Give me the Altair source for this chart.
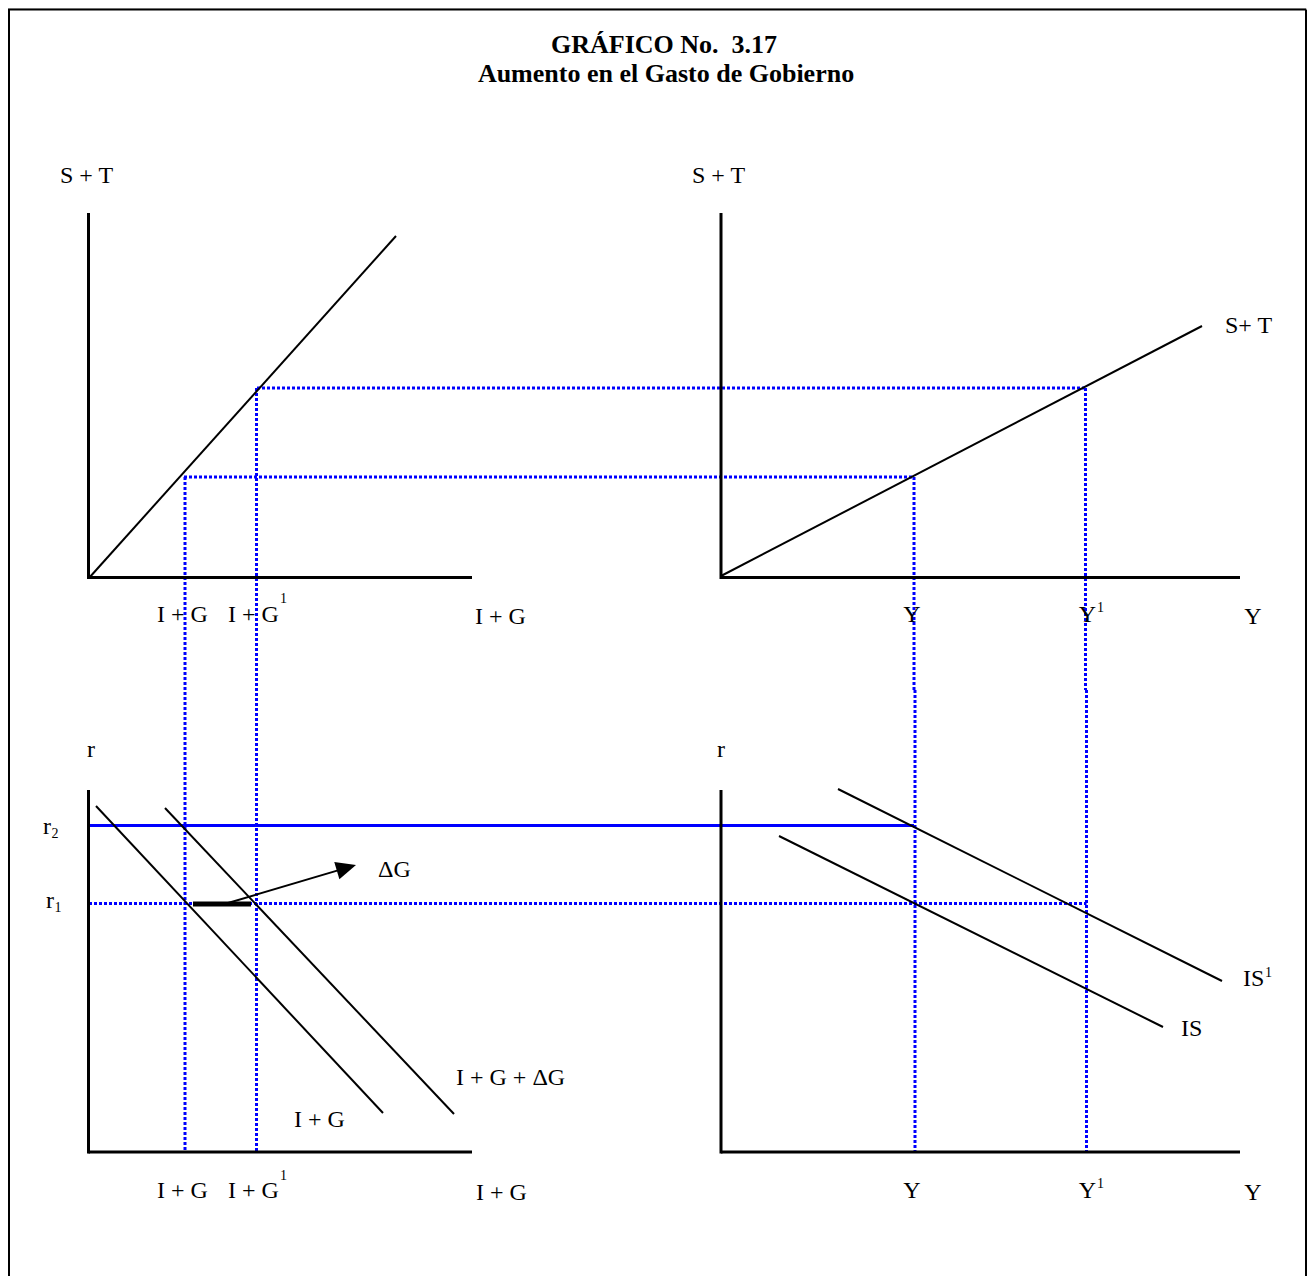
import math
import altair as alt
import pandas as pd

# ---- coordinate frame of the diagram (page pixels) ----
X_DOMAIN = [8, 1307]
Y_DOMAIN = [8, 1276]

# ---- segments: (x1, y1, x2, y2) ----
frame_segments = [(8, 9.5, 1306, 9.5), (9, 9.5, 9, 1300), (1306, 9.5, 1306, 1300)]

axis_segments = [
    (88.5, 213, 88.5, 579), (88.5, 577.5, 472, 577.5),      # S+T vs I+G
    (721, 213, 721, 579), (721, 577.5, 1240, 577.5),        # S+T vs Y
    (88.5, 790, 88.5, 1153.5), (88.5, 1152, 472, 1152),     # r vs I+G
    (721, 790, 721, 1153.5), (721, 1152, 1240, 1152),       # r vs Y
]

curve_segments = [
    (89, 578, 396, 236),        # 45-degree line
    (721, 576, 1202, 326),      # S + T
    (96, 806, 383, 1113),       # I + G
    (165, 808, 454, 1114),      # I + G + dG
    (779, 836, 1163, 1027),     # IS
    (838, 789, 1222, 981),      # IS1
]

blue_solid_segments = [(89, 825.5, 914, 825.5)]  # r2

blue_dotted_segments = [
    (257, 388, 1085.5, 388),
    (184, 477, 914, 477),
    (89, 903.5, 1086.5, 903.5),                 # r1
    (185, 477, 185, 1152),
    (256.5, 388, 256.5, 1152),
    (914, 477, 914, 690), (915, 690, 915, 1152),
    (1085.5, 388, 1085.5, 690), (1086.5, 690, 1086.5, 1152),
]

thick_segments = [(193, 904, 251, 904)]          # delta G
arrow_tail = (228, 903)
arrow_tip = (356, 865)
ARROW_LEN = 20

# ---- labels: (x, baseline y, text, size) ----
left_labels = [
    (60, 183, "S + T", 24), (692, 183, "S + T", 24), (1225, 333, "S+ T", 24),
    (157, 622, "I + G", 24), (228, 622, "I + G", 24), (475, 624, "I + G", 24),
    (280, 603, "1", 14),
    (43, 834, "r", 24), (51.5, 838, "2", 14),
    (46, 908, "r", 24), (54.5, 912, "1", 14),
    (378, 877, "\u0394G", 24),
    (294, 1127, "I + G", 24), (456, 1085, "I + G + \u0394G", 24),
    (157, 1198, "I + G", 24), (228, 1198, "I + G", 24), (476, 1200, "I + G", 24),
    (280, 1180, "1", 14),
    (1181, 1036, "IS", 24), (1243, 986, "IS", 24), (1265, 977, "1", 14),
    (1097, 612, "1", 14), (1097, 1188, "1", 14),
]
center_labels = [
    (91, 757, "r", 24), (721, 757, "r", 24),
    (912, 622, "Y", 24), (1087.5, 622, "Y", 24), (1253, 624, "Y", 24),
    (912, 1198, "Y", 24), (1087.5, 1198, "Y", 24), (1253, 1200, "Y", 24),
]
title_lines = [(664, 53, "GR\u00c1FICO No.\u00a0 3.17", 26), (666, 82, "Aumento en el Gasto de Gobierno", 26)]

FONT = "Liberation Serif"
xs = alt.Scale(domain=X_DOMAIN)
ys = alt.Scale(domain=Y_DOMAIN, reverse=True)


def seg_df(segs):
    return pd.DataFrame(segs, columns=["x1", "y1", "x2", "y2"])


def rules(segs, color, width, dash=None):
    kw = dict(color=color, strokeWidth=width, strokeCap="butt")
    if dash:
        kw["strokeDash"] = dash
    return alt.Chart(seg_df(segs)).mark_rule(**kw).encode(
        x=alt.X("x1:Q", scale=xs, axis=None),
        y=alt.Y("y1:Q", scale=ys, axis=None),
        x2="x2:Q",
        y2="y2:Q",
    )


def texts(rows, align, bold=False):
    df = pd.DataFrame(rows, columns=["x", "y", "t", "fs"])
    return alt.Chart(df).mark_text(
        align=align, baseline="alphabetic", font=FONT, color="black",
        fontWeight="bold" if bold else "normal",
    ).encode(
        x=alt.X("x:Q", scale=xs, axis=None),
        y=alt.Y("y:Q", scale=ys, axis=None),
        text="t:N",
        size=alt.Size("fs:Q", scale=None, legend=None),
    )


# arrow
dx, dy = arrow_tip[0] - arrow_tail[0], arrow_tip[1] - arrow_tail[1]
L = math.hypot(dx, dy)
ux, uy = dx / L, dy / L
head_center = (arrow_tip[0] - ux * ARROW_LEN / 2, arrow_tip[1] - uy * ARROW_LEN / 2)
arrow_line = [(arrow_tail[0], arrow_tail[1], head_center[0], head_center[1])]
angle = math.degrees(math.atan2(uy, ux)) % 360
head_df = pd.DataFrame([{"x": head_center[0], "y": head_center[1]}])
arrow_head = alt.Chart(head_df).mark_point(
    shape="M1,0 L-1,-0.9 L-1,0.9 Z", filled=True, color="black", opacity=1,
    size=ARROW_LEN ** 2, angle=angle, strokeWidth=0,
).encode(x=alt.X("x:Q", scale=xs, axis=None), y=alt.Y("y:Q", scale=ys, axis=None))

chart = alt.layer(
    rules(frame_segments, "black", 2),
    rules(blue_dotted_segments, "#0000FF", 3, [3, 2]),
    rules(blue_solid_segments, "#0000FF", 3),
    rules(axis_segments, "black", 3),
    rules(curve_segments, "black", 2),
    rules(thick_segments, "black", 5),
    rules(arrow_line, "black", 2),
    arrow_head,
    texts(left_labels, "left"),
    texts(center_labels, "center"),
    texts(title_lines, "center", bold=True),
).properties(
    width=X_DOMAIN[1] - X_DOMAIN[0],
    height=Y_DOMAIN[1] - Y_DOMAIN[0],
    autosize=alt.AutoSizeParams(type="none"),
    padding=0,
).configure_view(stroke=None).configure(background="white")

chart.save("out.html", embed_options={"renderer": "svg", "actions": False})
